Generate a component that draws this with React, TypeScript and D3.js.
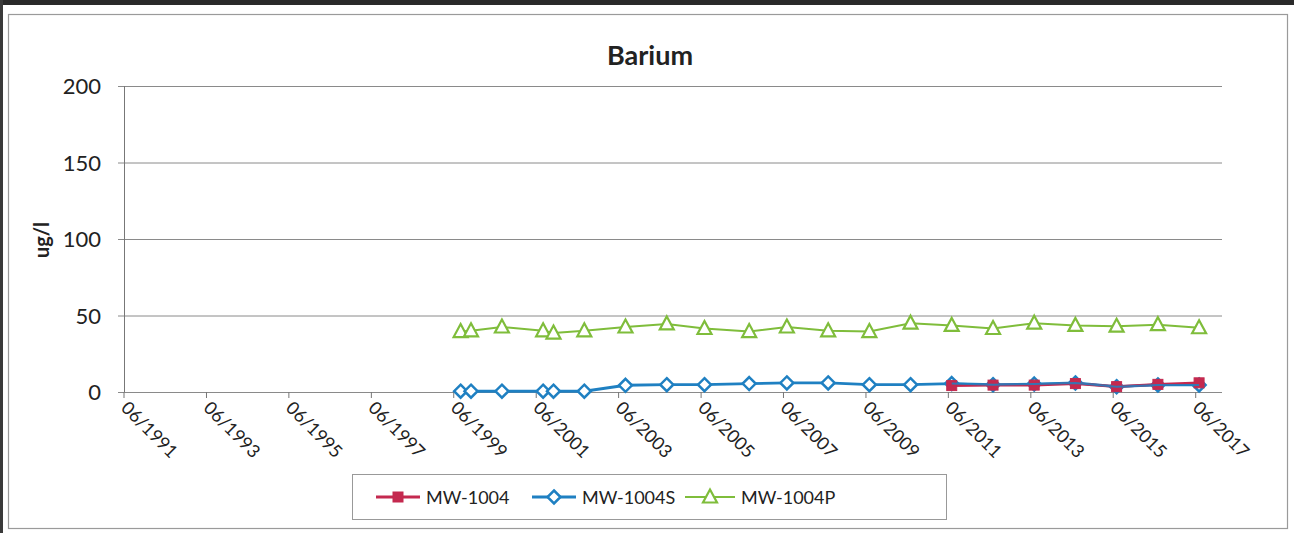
import { useEffect, useRef } from 'react'
import * as d3 from 'd3'

// sampling dates (yyyy-mm)
const dates = [
  '1999-08', '1999-11', '2000-08', '2001-08', '2001-11', '2002-08', '2003-08',
  '2004-08', '2005-07', '2006-08', '2007-07', '2008-07', '2009-07', '2010-07',
  '2011-07', '2012-07', '2013-07', '2014-07', '2015-07', '2016-07', '2017-07',
]
const redDates = ['2011-07', '2012-07', '2013-07', '2014-07', '2015-07', '2016-07', '2017-07']

const mw1004 = [4.2, 4.5, 4.5, 5.5, 3.5, 5, 6]
const mw1004S = [0.5, 0.5, 0.5, 0.5, 0.5, 0.5, 4.4, 4.8, 4.8, 5.5, 5.9, 5.9, 4.8, 4.8, 5.5, 4.8, 5.2, 5.9, 3.5, 4.6, 4.6]
const mw1004P = [39.5, 40, 42.5, 40, 38.5, 40, 42.5, 44.5, 41.5, 39.5, 42.5, 40, 39.5, 45, 43.5, 41.5, 45, 43.5, 43, 44, 42]

const yTicks = [0, 50, 100, 150, 200]
const xTickYears = [1991, 1993, 1995, 1997, 1999, 2001, 2003, 2005, 2007, 2009, 2011, 2013, 2015, 2017]

const seriesNames = ['MW-1004', 'MW-1004S', 'MW-1004P']
const colors = ['#c4294f', '#1f80c2', '#7fbd3b']

const parse = d3.timeParse('%Y-%m')

export default function App() {
  const ref = useRef<SVGSVGElement>(null)

  useEffect(() => {
    if (!ref.current) return
    const svg = d3.select(ref.current)
    svg.selectAll('*').remove()

    const W = 1294, H = 533
    const font = 'Lato, "Open Sans", sans-serif'
    const left = 124, right = 1222, top = 86, bottom = 392

    svg.append('rect').attr('width', W).attr('height', H).attr('fill', '#fff')
    // scan borders
    svg.append('rect').attr('x', 0).attr('y', 0).attr('width', W).attr('height', 5).attr('fill', '#2a2a2a')
    svg.append('rect').attr('x', 0).attr('y', 0).attr('width', 3).attr('height', H).attr('fill', '#3a3a3a')
    svg.append('rect').attr('x', 8.5).attr('y', 14.5).attr('width', 1279).attr('height', 514)
      .attr('fill', 'none').attr('stroke', '#9a9a9a').attr('stroke-width', 1.2)

    const x = d3.scaleTime()
      .domain([new Date(1991, 5, 1), new Date(2018, 0, 20)])
      .range([left, right])
    const y = d3.scaleLinear().domain([0, 200]).range([bottom, top])

    // gridlines
    svg.append('g').selectAll('line').data(yTicks).enter().append('line')
      .attr('x1', left - 6).attr('x2', right)
      .attr('y1', d => y(d) + 0.5).attr('y2', d => y(d) + 0.5)
      .attr('stroke', '#8a8a8a').attr('stroke-width', 1)

    // y axis line
    svg.append('line').attr('x1', left + 0.5).attr('x2', left + 0.5)
      .attr('y1', top).attr('y2', bottom).attr('stroke', '#777').attr('stroke-width', 1)

    svg.append('g').selectAll('text').data(yTicks).enter().append('text')
      .attr('x', 101).attr('y', d => y(d) + 8)
      .attr('text-anchor', 'end').attr('font-family', font).attr('font-size', 22)
      .attr('fill', '#222').text(d => d)

    // x ticks
    const xTicks = xTickYears.map(yr => new Date(yr, 5, 1))
    svg.append('g').selectAll('line').data(xTicks).enter().append('line')
      .attr('x1', d => x(d)).attr('x2', d => x(d))
      .attr('y1', bottom).attr('y2', bottom + 6)
      .attr('stroke', '#777')
    svg.append('g').selectAll('text').data(xTicks).enter().append('text')
      .attr('transform', d => `translate(${x(d) - 4},${bottom + 17}) rotate(45)`)
      .attr('font-family', font).attr('font-size', 18).attr('fill', '#222')
      .text(d => d3.timeFormat('%m/%Y')(d))

    // title + axis title
    svg.append('text').attr('x', 650).attr('y', 65).attr('text-anchor', 'middle')
      .attr('font-family', font).attr('font-size', 27).attr('font-weight', 'bold').attr('fill', '#222')
      .text('Barium')
    svg.append('text').attr('transform', 'translate(49,240) rotate(-90)').attr('text-anchor', 'middle')
      .attr('font-family', font).attr('font-size', 20).attr('font-weight', 'bold').attr('fill', '#222')
      .text('ug/l')

    const line = d3.line<[Date, number]>().x(d => x(d[0])).y(d => y(d[1]))

    const mkData = (ds: string[], vs: number[]) => ds.map((d, i) => [parse(d) as Date, vs[i]] as [Date, number])
    const series = [
      mkData(redDates, mw1004),
      mkData(dates, mw1004S),
      mkData(dates, mw1004P),
    ]

    const drawMarker = (g: any, i: number, cx: number, cy: number) => {
      if (i === 0) {
        g.append('rect').attr('x', cx - 5).attr('y', cy - 5).attr('width', 10).attr('height', 10)
          .attr('fill', colors[0]).attr('stroke', colors[0])
      } else if (i === 1) {
        g.append('path').attr('d', `M${cx},${cy - 6.5}L${cx + 6.5},${cy}L${cx},${cy + 6.5}L${cx - 6.5},${cy}Z`)
          .attr('fill', '#fff').attr('stroke', colors[1]).attr('stroke-width', 2.5)
      } else {
        g.append('path').attr('d', `M${cx},${cy - 7.5}L${cx + 7},${cy + 5.5}L${cx - 7},${cy + 5.5}Z`)
          .attr('fill', '#fff').attr('stroke', colors[2]).attr('stroke-width', 2.2)
      }
    }

    // draw green, then blue, then red on top
    ;[2, 1, 0].forEach(i => {
      const g = svg.append('g')
      g.append('path').datum(series[i]).attr('d', line).attr('fill', 'none')
        .attr('stroke', colors[i]).attr('stroke-width', i === 2 ? 2 : 2.8)
      series[i].forEach(d => drawMarker(g, i, x(d[0]), y(d[1])))
    })
    // blue line drawn over red to mimic overlap
    const gb = svg.append('g')
    gb.append('path').datum(series[1].filter(d => d[0] >= (parse('2011-01') as Date))).attr('d', line)
      .attr('fill', 'none').attr('stroke', colors[1]).attr('stroke-width', 2).attr('opacity', 0.85)

    // legend
    const lg = svg.append('g')
    lg.append('rect').attr('x', 352.5).attr('y', 474.5).attr('width', 594).attr('height', 45)
      .attr('fill', '#fff').attr('stroke', '#999')
    const legendX = [376, 532, 685]
    const legendLen = [44, 44, 50]
    seriesNames.forEach((name, i) => {
      const lx = legendX[i], ly = 497
      lg.append('line').attr('x1', lx).attr('x2', lx + legendLen[i]).attr('y1', ly).attr('y2', ly)
        .attr('stroke', colors[i]).attr('stroke-width', i === 2 ? 2 : 2.8)
      drawMarker(lg, i, lx + legendLen[i] / 2, ly)
      lg.append('text').attr('x', lx + legendLen[i] + 6).attr('y', ly + 7)
        .attr('font-family', font).attr('font-size', 18).attr('fill', '#222').text(name)
    })
  }, [])

  return (
    <div style={{ position: 'fixed', left: 0, top: 0 }}>
      <svg ref={ref} width={1294} height={533} />
    </div>
  )
}
